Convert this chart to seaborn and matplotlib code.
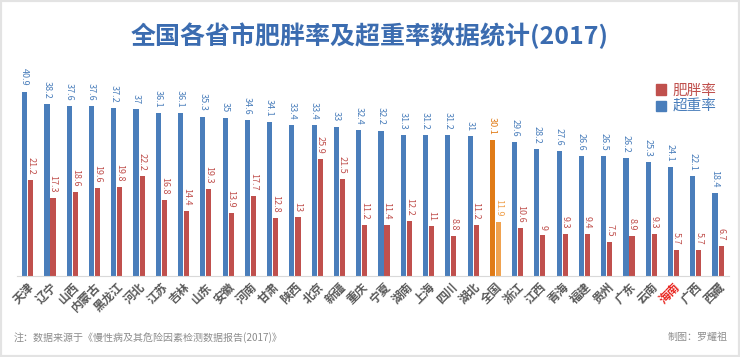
import matplotlib
matplotlib.use("Agg")
import matplotlib.pyplot as plt
from matplotlib.patches import Patch, Rectangle
import pandas as pd
import seaborn as sns

provinces = ["天津", "辽宁", "山西", "内蒙古", "黑龙江", "河北", "江苏", "吉林", "山东", "安徽",
             "河南", "甘肃", "陕西", "北京", "新疆", "重庆", "宁夏", "湖南", "上海", "四川",
             "湖北", "全国", "浙江", "江西", "青海", "福建", "贵州", "广东", "云南", "海南",
             "广西", "西藏"]
overweight = [40.9, 38.2, 37.6, 37.6, 37.2, 37, 36.1, 36.1, 35.3, 35, 34.6, 34.1, 33.4, 33.4,
              33, 32.4, 32.2, 31.3, 31.2, 31.2, 31, 30.1, 29.6, 28.2, 27.6, 26.6, 26.5, 26.2,
              25.3, 24.1, 22.1, 18.4]
obesity = [21.2, 17.3, 18.6, 19.6, 19.8, 22.2, 16.8, 14.4, 19.3, 13.9, 17.7, 12.8, 13, 25.9,
           21.5, 11.2, 11.4, 12.2, 11, 8.8, 11.2, 11.9, 10.6, 9, 9.3, 9.4, 7.5, 8.9, 9.3, 5.7,
           5.7, 6.7]

BLUE = "#4a7ebb"
RED = "#c0504d"
ORANGE = "#e07b17"
LIGHT_ORANGE = "#f0a24f"

sns.set_style("white")
plt.rcParams["font.family"] = ["Noto Sans CJK SC", "DejaVu Sans"]

df = pd.DataFrame({
    "省份": provinces * 2,
    "比例": overweight + obesity,
    "类别": ["超重率"] * len(provinces) + ["肥胖率"] * len(provinces),
})

fig = plt.figure(figsize=(7.4, 3.57), dpi=100)
ax = fig.add_axes([0.0224, 0.227, 0.963, 0.619])

sns.barplot(data=df, x="省份", y="比例", hue="类别", hue_order=["超重率", "肥胖率"],
            order=provinces, palette=[BLUE, RED], width=0.54, gap=0.15,
            linewidth=0, saturation=1, legend=False, ax=ax)

nat = provinces.index("全国")
for cont, col, vals in zip(ax.containers, [BLUE, RED], [overweight, obesity]):
    for i, (bar, v) in enumerate(zip(cont, vals)):
        c = col
        if i == nat:
            c = ORANGE if col == BLUE else LIGHT_ORANGE
            bar.set_facecolor(c)
        ax.text(bar.get_x() + bar.get_width() / 2, bar.get_height() + 1.2, f"{v:g}",
                rotation=270, ha="center", va="bottom", fontsize=6.5, color=c)

ax.set_ylim(0, 49)
ax.set_xlim(-0.5, len(provinces) - 0.5)
ax.set_yticks([])
ax.set_xlabel("")
ax.set_ylabel("")
for s in ["top", "left", "right"]:
    ax.spines[s].set_visible(False)
ax.spines["bottom"].set_color("#d9d9d9")
ax.tick_params(axis="x", length=0, pad=3)
ax.set_xticks(range(len(provinces)))
ax.set_xticklabels(provinces, rotation=45, ha="right", rotation_mode="anchor",
                   fontsize=8.5, color="#595959", fontweight="bold")
for lbl in ax.get_xticklabels():
    if lbl.get_text() == "海南":
        lbl.set_color("#e8251f")

handles = [Patch(color=RED), Patch(color=BLUE)]
leg = ax.legend(handles, ["肥胖率", "超重率"], loc="upper right", bbox_to_anchor=(1.0, 0.93),
                frameon=False, fontsize=10.5, handlelength=0.7, handleheight=0.7,
                handletextpad=0.4, labelspacing=0.15)
for t, c in zip(leg.get_texts(), [RED, BLUE]):
    t.set_color(c)

fig.text(0.5, 0.9, "全国各省市肥胖率及超重率数据统计(2017)", ha="center", va="center",
         fontsize=18, fontweight="semibold", color="#3b6cb0")
fig.text(0.018, 0.055, "注：数据来源于《慢性病及其危险因素检测数据报告(2017)》", ha="left",
         va="center", fontsize=7.2, color="#8c8c8c")
fig.text(0.983, 0.055, "制图：罗耀祖", ha="right", va="center", fontsize=7.2, color="#8c8c8c")

fig.patches.append(Rectangle((0, 0), 1, 1, transform=fig.transFigure, fill=False,
                             edgecolor="#e3e3e3", linewidth=3))

fig.savefig("out.png", dpi=100)
